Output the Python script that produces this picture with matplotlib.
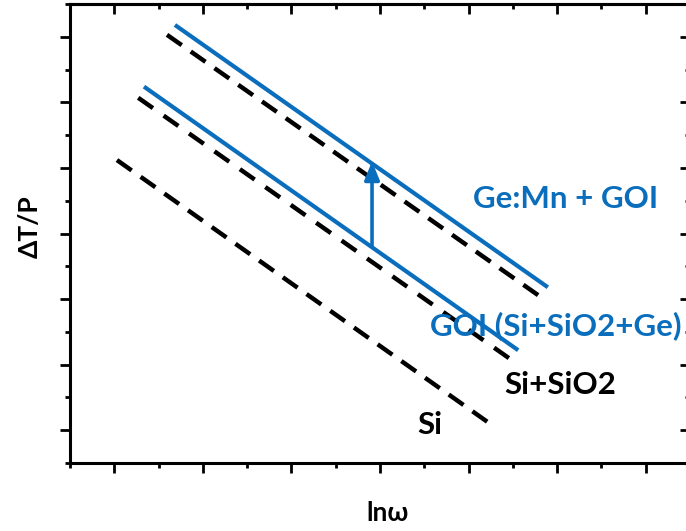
import numpy as np
import matplotlib
matplotlib.use("Agg")
import matplotlib.pyplot as plt
from matplotlib.ticker import NullFormatter

# Line endpoints (data units)
gemn_x = [2.37, 10.79]
gemn_y = [6.68, 2.68]
gemn_ref_x = [2.19, 10.57]
gemn_ref_y = [6.53, 2.56]
goi_x = [1.67, 10.12]
goi_y = [5.74, 1.72]
sisio2_x = [1.54, 9.91]
sisio2_y = [5.57, 1.60]
si_x = [1.06, 9.42]
si_y = [4.62, 0.63]
arrow_x = 6.82
arrow_y = [3.32, 4.60]

labels = ["Ge:Mn + GOI", "GOI (Si+SiO2+Ge)", "Si+SiO2", "Si"]

blue = "#0A6EBD"
DPI = 100

fig = plt.figure(figsize=(6.86, 5.31), dpi=DPI)
ax = fig.add_axes([70/686, 68/531, 620/686, 459/531])
ax.set_xlim(0, 14)
ax.set_ylim(0, 7)


def dashed(xs, ys, lw=3.2, dash_px=18.0, gap_px=12.0):
    p = ax.transData.transform(np.column_stack([xs, ys]))
    L = np.hypot(*(p[1] - p[0]))
    n = max(2, int(round((L + gap_px) / (dash_px + gap_px))))
    g = (L - n * dash_px) / (n - 1)
    k = 72.0 / DPI / lw
    ax.plot(xs, ys, color="black", lw=lw, linestyle=(0, (dash_px * k, g * k)))


ax.plot(gemn_x, gemn_y, color=blue, lw=3.0, solid_capstyle="butt")
dashed(gemn_ref_x, gemn_ref_y)
ax.plot(goi_x, goi_y, color=blue, lw=3.0, solid_capstyle="butt")
dashed(sisio2_x, sisio2_y)
dashed(si_x, si_y)

ax.annotate("", xy=(arrow_x, arrow_y[1]), xytext=(arrow_x, arrow_y[0]),
            arrowprops=dict(arrowstyle="-|>,head_length=1.1,head_width=0.45",
                            color=blue, lw=2.6, shrinkA=0, shrinkB=0))

fam = ["Lato", "DejaVu Sans"]
fs = 22.5
ax.text(11.2, 4.03, labels[0], color=blue, fontsize=fs, fontweight="bold",
        ha="center", va="center", family=fam)
ax.text(8.13, 2.09, labels[1], color=blue, fontsize=fs, fontweight="bold",
        ha="left", va="center", family=fam)
ax.text(9.8, 1.19, labels[2], color="black", fontsize=fs, fontweight="bold",
        ha="left", va="center", family=fam)
ax.text(7.85, 0.58, labels[3], color="black", fontsize=fs, fontweight="bold",
        ha="left", va="center", family=fam)

ax.set_xticks([1, 3, 5, 7, 9, 11, 13])
ax.set_xticks([0, 2, 4, 6, 8, 10, 12, 14], minor=True)
ax.set_yticks([0.5, 1.5, 2.5, 3.5, 4.5, 5.5, 6.5])
ax.set_yticks([0, 1, 2, 3, 4, 5, 6, 7], minor=True)
ax.xaxis.set_major_formatter(NullFormatter())
ax.yaxis.set_major_formatter(NullFormatter())

for s in ax.spines.values():
    s.set_linewidth(2.2)
ax.tick_params(which="both", width=2.0, direction="out", bottom=True, left=True,
               top=False, right=False)
ax.tick_params(which="major", length=7)
ax.tick_params(which="minor", length=3.5)

sec_x = ax.secondary_xaxis("top")
sec_x.set_xticks([1, 3, 5, 7, 9, 11, 13])
sec_x.set_xticks([0, 2, 4, 6, 8, 10, 12, 14], minor=True)
sec_x.tick_params(which="both", direction="in", width=2.0)
sec_x.tick_params(which="major", length=7)
sec_x.tick_params(which="minor", length=3.5)
sec_x.xaxis.set_major_formatter(NullFormatter())
sec_x.spines["top"].set_linewidth(2.2)

sec_y = ax.secondary_yaxis("right")
sec_y.set_yticks([0.5, 1.5, 2.5, 3.5, 4.5, 5.5, 6.5])
sec_y.set_yticks([0, 1, 2, 3, 4, 5, 6, 7], minor=True)
sec_y.tick_params(which="both", direction="in", width=2.0)
sec_y.tick_params(which="major", length=7)
sec_y.tick_params(which="minor", length=3.5)
sec_y.yaxis.set_major_formatter(NullFormatter())

fig.text(30/686, 1 - 227/531, "ΔT/P", rotation=90, ha="center", va="center",
         fontsize=19, fontweight="bold", family=fam)
fig.text(388/686, 1 - 513/531, "lnω", ha="center", va="center",
         fontsize=19, fontweight="bold", family=fam)

fig.savefig("out.png", dpi=DPI)
